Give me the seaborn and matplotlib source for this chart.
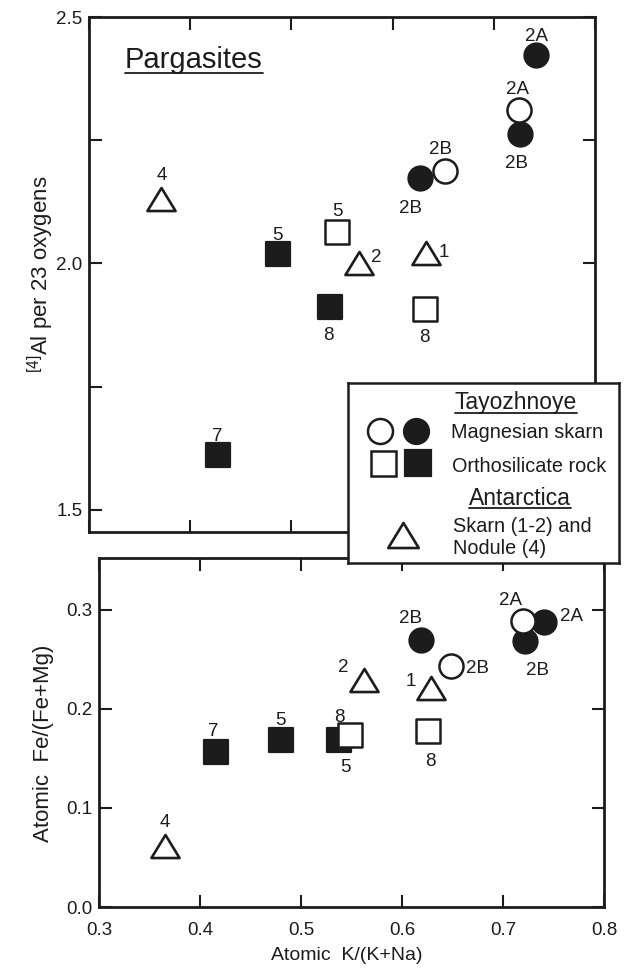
import matplotlib
matplotlib.use("Agg")
import matplotlib.pyplot as plt
import seaborn as sns
import pandas as pd
from matplotlib.lines import Line2D
from matplotlib.path import Path

sns.set_theme(style="white")
plt.rcParams["font.family"] = ["Liberation Sans", "DejaVu Sans"]
plt.rcParams["mathtext.fontset"] = "custom"
plt.rcParams["mathtext.rm"] = "Liberation Sans"
plt.rcParams["mathtext.it"] = "Liberation Sans:italic"
plt.rcParams["mathtext.bf"] = "Liberation Sans:bold"

INK = "#1c1c1c"

# ---------------- data ----------------
# kinds: mag_open / mag_filled (Magnesian skarn), ortho_open / ortho_filled (Orthosilicate rock), ant (Antarctica)
top_kind = ["mag_filled", "mag_open", "mag_filled", "mag_open", "mag_filled", "ant",
            "ortho_open", "ortho_filled", "ant", "ant", "ortho_filled", "ortho_open", "ortho_filled"]
top_x = [0.742, 0.725, 0.726, 0.652, 0.627, 0.371, 0.545, 0.487, 0.567, 0.633, 0.538, 0.632, 0.427]
top_y = [2.423, 2.311, 2.263, 2.187, 2.173, 2.130, 2.064, 2.019, 2.000, 2.021, 1.911, 1.908, 1.611]
top_label = ["2A", "2A", "2B", "2B", "2B", "4", "5", "5", "2", "1", "8", "8", "7"]

bot_kind = ["ant", "ortho_filled", "ortho_filled", "ortho_filled", "ortho_open", "ortho_open",
            "ant", "ant", "mag_filled", "mag_open", "mag_open", "mag_filled", "mag_filled"]
bot_x = [0.365, 0.416, 0.480, 0.538, 0.549, 0.626, 0.562, 0.629, 0.619, 0.649, 0.720, 0.741, 0.722]
bot_y = [0.0615, 0.1565, 0.1686, 0.168, 0.173, 0.178, 0.229, 0.221, 0.269, 0.243, 0.288, 0.287, 0.268]
bot_label = ["4", "7", "5", "5", "8", "8", "2", "1", "2B", "2B", "2A", "2A", "2B"]

x_ticks = [0.3, 0.4, 0.5, 0.6, 0.7, 0.8]
x_ticklabels = ["0.3", "0.4", "0.5", "0.6", "0.7", "0.8"]
top_yticks = [1.5, 1.75, 2.0, 2.25, 2.5]
top_yticklabels = ["1.5", "", "2.0", "", "2.5"]
bot_yticks = [0.0, 0.1, 0.2, 0.3]
bot_yticklabels = ["0.0", "0.1", "0.2", "0.3"]

# label offsets (pixels, dx right, dy up) - placement only
top_off = [(0, 20), (-2, 23), (-4, -28), (-5, 24), (-9, -28), (1, 26), (1, 22), (-1, 21),
           (17, 8), (18, 3), (-1, -26), (-1, -27), (0, 21)]
bot_off = [(0, 26), (-3, 22), (0, 21), (6, -25), (-11, 20), (2, -29), (-20, 14), (-20, 8),
           (-11, 24), (26, 0), (-13, 23), (27, 8), (12, -27)]

df_top = pd.DataFrame({"x": top_x, "y": top_y, "kind": top_kind, "label": top_label})
df_bot = pd.DataFrame({"x": bot_x, "y": bot_y, "kind": bot_kind, "label": bot_label})

TRI = Path([(-1, -0.82), (1, -0.82), (0, 0.82), (-1, -0.82)], closed=True)
styles = {
    "mag_filled":   dict(marker="o", s=300, color=INK,     edgecolor=INK, linewidth=1.6),
    "ortho_filled": dict(marker="s", s=320, color=INK,     edgecolor=INK, linewidth=1.6),
    "mag_open":     dict(marker="o", s=300, color="white", edgecolor=INK, linewidth=1.8),
    "ortho_open":   dict(marker="s", s=300, color="white", edgecolor=INK, linewidth=1.8),
    "ant":          dict(marker=TRI, s=410, color="white", edgecolor=INK, linewidth=1.9),
}
draw_order = ["mag_filled", "ortho_filled", "mag_open", "ortho_open", "ant"]

W, H = 631, 968
fig = plt.figure(figsize=(W / 100, H / 100), dpi=100, facecolor="white")

def px_axes(l, t, r, b):
    return fig.add_axes([l / W, 1 - b / H, (r - l) / W, (b - t) / H])

ax1 = px_axes(89, 17, 595, 532)
ax2 = px_axes(99, 558, 604, 907)

def draw_panel(ax, df, offs):
    for k in draw_order:
        sub = df[df["kind"] == k]
        if len(sub):
            sns.scatterplot(data=sub, x="x", y="y", ax=ax, legend=False, zorder=3, **styles[k])
    for (xv, yv, lab), (dx, dy) in zip(df[["x", "y", "label"]].values, offs):
        ax.annotate(lab, (xv, yv), xytext=(dx, dy - 6.5), textcoords="offset pixels",
                    ha="center", va="baseline", fontsize=13.5, color=INK, zorder=4)
    ax.set_xlim(0.3, 0.8)
    ax.set_xticks(x_ticks)
    for sp in ax.spines.values():
        sp.set_linewidth(2.0)
        sp.set_color(INK)
    ax.set_facecolor("white")
    ax.tick_params(axis="both", direction="in", length=9, width=1.5, colors=INK,
                   labelsize=13.5, top=True, right=True, left=True, bottom=True)
    ax.tick_params(axis="x", pad=11)
    ax.tick_params(axis="y", pad=4.5)

draw_panel(ax1, df_top, top_off)
ax1.set_ylim(1.455, 2.5)
ax1.set_yticks(top_yticks)
ax1.set_yticklabels(top_yticklabels)
ax1.set_xticklabels([])
ax1.set_xlabel("")
ax1.set_ylabel(r"$^{[4]}$Al per 23 oxygens", fontsize=16, color=INK, va="center")
ax1.yaxis.set_label_coords(-0.095, 0.50)

draw_panel(ax2, df_bot, bot_off)
ax2.set_ylim(0, 0.352)
ax2.set_yticks(bot_yticks)
ax2.set_yticklabels(bot_yticklabels)
ax2.set_xticklabels(x_ticklabels)
ax2.set_ylabel("Atomic  Fe/(Fe+Mg)", fontsize=16, color=INK, va="center")
ax2.yaxis.set_label_coords(-0.109, 0.47)
ax2.set_xlabel("Atomic  K/(K+Na)", fontsize=14, color=INK, va="center")
ax2.xaxis.set_label_coords(0.491, -0.140)

# ---------------- title ----------------
title = fig.text(125 / W, 1 - 68 / H, "Pargasites", fontsize=21, color=INK,
                 ha="left", va="baseline")

# ---------------- legend box ----------------
axl = px_axes(348, 383, 619, 563)
axl.set_xlim(348, 619)
axl.set_ylim(563, 383)
axl.set_xticks([])
axl.set_yticks([])
axl.set_facecolor("white")
for sp in axl.spines.values():
    sp.set_linewidth(1.8)
    sp.set_color(INK)
axl.plot([380], [431], marker="o", ms=18, mfc="white", mec=INK, mew=1.8, ls="none")
axl.plot([416], [431], marker="o", ms=18, mfc=INK, mec=INK, mew=1.6, ls="none")
axl.plot([382.7], [462.7], marker="s", ms=18, mfc="white", mec=INK, mew=1.8, ls="none")
axl.plot([417.5], [462.7], marker="s", ms=18.5, mfc=INK, mec=INK, mew=1.6, ls="none")
axl.plot([402.5], [535], marker=TRI, ms=22, mfc="white", mec=INK, mew=1.9, ls="none")
h1 = axl.text(516, 409, "Tayozhnoye", fontsize=16.5, color=INK, ha="center", va="baseline")
axl.text(451, 438, "Magnesian skarn", fontsize=14.3, color=INK, ha="left", va="baseline")
axl.text(452, 472, "Orthosilicate rock", fontsize=14.3, color=INK, ha="left", va="baseline")
h2 = axl.text(520, 505, "Antarctica", fontsize=16.5, color=INK, ha="center", va="baseline")
axl.text(453, 532, "Skarn (1-2) and", fontsize=14.3, color=INK, ha="left", va="baseline")
axl.text(453, 554, "Nodule (4)", fontsize=14.3, color=INK, ha="left", va="baseline")

# underlines
fig.canvas.draw()
inv = fig.transFigure.inverted()
for t, y_px in [(title, 72.5), (h1, 412.5), (h2, 508)]:
    bb = t.get_window_extent()
    (x0, _), (x1, _) = inv.transform([(bb.x0, 0), (bb.x1, 0)])
    yy = 1 - y_px / H
    fig.add_artist(Line2D([x0, x1], [yy, yy], color=INK, lw=1.3, transform=fig.transFigure, zorder=10))

fig.savefig("out.png", dpi=100, facecolor="white")
